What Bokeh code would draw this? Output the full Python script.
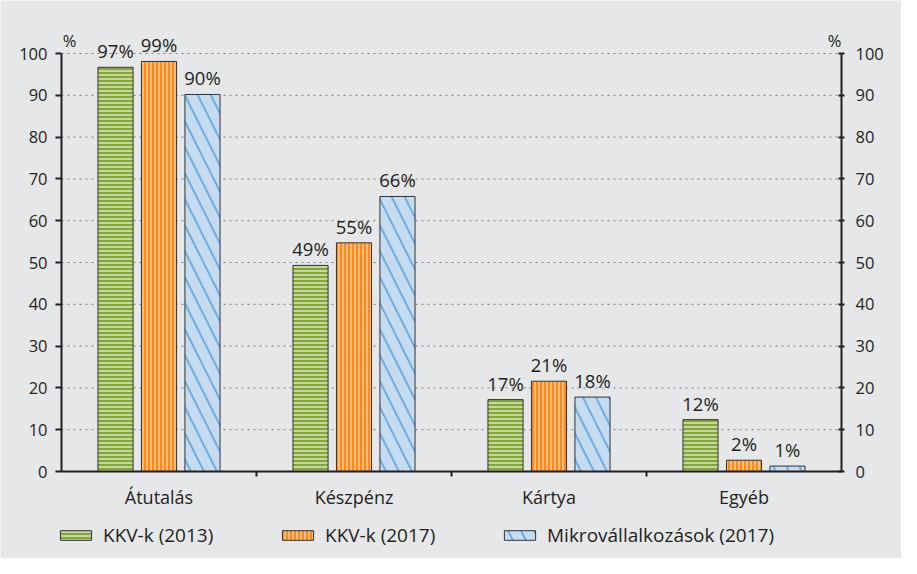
from bokeh.plotting import figure
from bokeh.models import (Range1d, LinearAxis, FixedTicker, ColumnDataSource,
                          LabelSet, Label, Legend, LegendItem)
from bokeh.core.properties import value
from bokeh.transform import dodge
from bokeh.embed import file_html
from bokeh.resources import INLINE

# ---- data ----
categories = ["Átutalás", "Készpénz", "Kártya", "Egyéb"]
kkv_2013 = [96.7, 49.3, 17.2, 12.4]
kkv_2017 = [98.1, 54.7, 21.6, 2.7]
mikro_2017 = [90.2, 65.8, 17.8, 1.3]
labels_2013 = ["97%", "49%", "17%", "12%"]
labels_2017 = ["99%", "55%", "21%", "2%"]
labels_mikro = ["90%", "66%", "18%", "1%"]
series_names = ["KKV-k (2013)", "KKV-k (2017)", "Mikrovállalkozások (2017)"]
y_ticks = list(range(0, 101, 10))

# ---- style / layout ----
FONT = "Open Sans"
TXT = "#231f20"
BG = "#e6e7e8"
W_FIG, H_FIG = 901, 558
LEFT, RIGHT, TOP, BOTTOM = 61, 60, 53, 87      # pixel margins around the data area
n = len(categories)
px_x = (W_FIG - LEFT - RIGHT) / n
px_y = (H_FIG - TOP - BOTTOM) / 100.0

xpos = [i + 0.5 for i in range(n)]
src = ColumnDataSource(dict(x=xpos, v13=kkv_2013, v17=kkv_2017, vm=mikro_2017,
                            l13=labels_2013, l17=labels_2017, lm=labels_mikro))

p = figure(width=W_FIG, height=H_FIG, output_backend="svg", toolbar_location=None,
           x_range=Range1d(-LEFT / px_x, n + RIGHT / px_x),
           y_range=Range1d(-BOTTOM / px_y, 100 + TOP / px_y),
           min_border=0, x_axis_type=None, y_axis_type=None)
p.background_fill_color = BG
p.border_fill_color = BG
p.outline_line_color = None
p.grid.visible = False

# dotted horizontal grid lines, limited to the data area
grid_src = ColumnDataSource(dict(y=y_ticks[1:], x0=[0] * (len(y_ticks) - 1),
                                 x1=[n] * (len(y_ticks) - 1)))
p.segment(x0="x0", x1="x1", y0="y", y1="y", source=grid_src,
          line_color="#7a7a7a", line_dash="2 4", line_width=1)

# bars
OFF = 0.223
W = 0.18
specs = [
    ("v13", "l13", -OFF, "#82a63b", "#d2e1ac", "horizontal_line", 4, 1.7),
    ("v17", "l17", 0.0, "#f68b1f", "#fdc791", "vertical_line", 4, 1.6),
    ("vm", "lm", OFF, "#c5dcf0", "#6fade0", "left_diagonal_line", 26, 2.0),
]
renderers = []
for col, lab, off, fc, hc, hp, hs, hw in specs:
    r = p.vbar(x=dodge("x", off, range=p.x_range), top=col, width=W, bottom=0,
               source=src, fill_color=fc, line_color="#333333", line_width=1,
               hatch_pattern=hp, hatch_color=hc, hatch_scale=hs, hatch_weight=hw)
    renderers.append(r)
    ls = LabelSet(x=dodge("x", off, range=p.x_range), y=col, text=lab, source=src,
                  text_align="center", text_baseline="alphabetic", y_offset=9,
                  text_font=value(FONT), text_font_size=value("18.5px"),
                  text_color=TXT)
    p.add_layout(ls)

# x axis at y = 0
xa = LinearAxis(fixed_location=0, bounds=(0, n))
xa.ticker = FixedTicker(ticks=xpos, minor_ticks=list(range(1, n)))
xa.major_label_overrides = {x: c for x, c in zip(xpos, categories)}
xa.major_tick_out = 0
xa.major_tick_in = 0
xa.major_tick_line_color = None
xa.minor_tick_out = 5
xa.minor_tick_in = 0
xa.minor_tick_line_color = TXT
xa.minor_tick_line_width = 2
xa.axis_line_color = TXT
xa.axis_line_width = 2
xa.major_label_text_font = FONT
xa.major_label_text_font_size = "18px"
xa.major_label_text_color = TXT
xa.major_label_standoff = 8
p.add_layout(xa, "below")

def y_axis(loc, t_in, t_out, standoff):
    ax = LinearAxis(fixed_location=loc, bounds=(0, 100))
    ax.ticker = FixedTicker(ticks=y_ticks)
    ax.axis_line_color = TXT
    ax.axis_line_width = 2
    ax.major_tick_line_color = TXT
    ax.major_tick_line_width = 2
    ax.major_tick_in = t_in
    ax.major_tick_out = t_out
    ax.minor_tick_line_color = None
    ax.major_label_text_font = FONT
    ax.major_label_text_font_size = "16.5px"
    ax.major_label_text_color = TXT
    ax.major_label_standoff = standoff
    return ax

p.add_layout(y_axis(0, 0, 6, 8), "left")
p.add_layout(y_axis(n, 3, 3, 11), "right")

# % labels above both axes
p.add_layout(Label(x=0, y=100, text="%", x_offset=8, y_offset=13, text_align="center",
                   text_baseline="alphabetic", text_font=FONT,
                   text_font_size="16.5px", text_color=TXT))
p.add_layout(Label(x=n, y=100, text="%", x_offset=-7, y_offset=13,
                   text_align="center", text_baseline="alphabetic", text_font=FONT,
                   text_font_size="16.5px", text_color=TXT))

# legends
leg_x = [56, 278, 500]
for name, r, lx in zip(series_names, renderers, leg_x):
    lg = Legend(items=[LegendItem(label=name, renderers=[r])], location=(lx, 10),
                orientation="horizontal", glyph_width=39, glyph_height=12,
                padding=0, margin=0, spacing=0, label_standoff=8,
                border_line_color=None, background_fill_alpha=0,
                label_text_font=FONT, label_text_font_size="19px",
                label_text_color=TXT)
    p.add_layout(lg)

open("out.html", "w").write(file_html(p, INLINE))
